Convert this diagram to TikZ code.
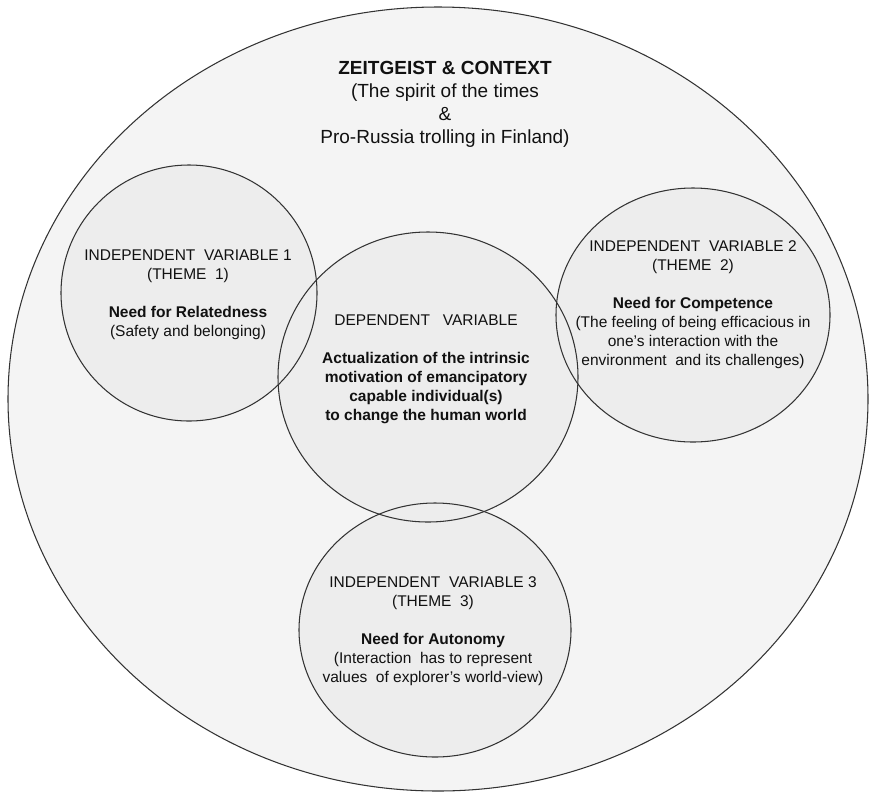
\documentclass[tikz,border=0pt]{standalone}
\usepackage{fontspec}
\setmainfont{Liberation Sans}
\definecolor{outerfill}{HTML}{F4F4F4}
\definecolor{innerfill}{HTML}{EDEDED}
\definecolor{rimcolor}{HTML}{333333}
\definecolor{inkcolor}{HTML}{111111}
\tikzset{
  rim/.style={draw=rimcolor, line width=1.05pt},
  heading/.style={align=center, text=inkcolor, inner sep=0pt,
    font=\fontsize{19pt}{23pt}\selectfont},
  bubbletext/.style={align=center, text=inkcolor, inner sep=0pt,
    font=\fontsize{15.5pt}{19pt}\selectfont}
}
\begin{document}
\begin{tikzpicture}[x=1pt, y=-1pt]
  \useasboundingbox (0,0) rectangle (870,793);
  \fill[white] (0,0) rectangle (870,793);

  % context ellipse and the four theme circles: fills first, rims on top
  \fill[outerfill] (438,399) ellipse [x radius=430pt, y radius=392pt];
  \foreach \cx/\cy/\rx/\ry in {189/293/128/128, 693/315/137/127,
                               435/630/136/127, 428/377/150/145}
    \fill[innerfill] (\cx,\cy) ellipse [x radius=\rx pt, y radius=\ry pt];
  \draw[rim] (438,399) ellipse [x radius=430pt, y radius=392pt];
  \foreach \cx/\cy/\rx/\ry in {189/293/128/128, 693/315/137/127,
                               435/630/136/127, 428/377/150/145}
    \draw[rim] (\cx,\cy) ellipse [x radius=\rx pt, y radius=\ry pt];

  % labels
  \node[heading] (context) at (445,104)
    {\textbf{ZEITGEIST \& CONTEXT}\\(The spirit of the times\\\&\\Pro-Russia trolling in Finland)};

  \node[bubbletext] (theme1) at (188,295)
    {INDEPENDENT~~VARIABLE 1\\(THEME~~1)\\[19pt]\textbf{Need for Relatedness}\\(Safety and belonging)};

  \node[bubbletext] (dependent) at (426,369)
    {DEPENDENT~~~VARIABLE\\[19pt]\textbf{Actualization of the intrinsic}\\\textbf{motivation of emancipatory}\\\textbf{capable individual(s)}\\\textbf{to change the human world}};

  \node[bubbletext] (theme2) at (693,305)
    {INDEPENDENT~~VARIABLE 2\\(THEME~~2)\\[19pt]\textbf{Need for Competence}\\(The feeling of being efficacious in\\one’s interaction with the\\environment~~and its challenges)};

  \node[bubbletext] (theme3) at (433,631)
    {INDEPENDENT~~VARIABLE 3\\(THEME~~3)\\[19pt]\textbf{Need for Autonomy}\\(Interaction~~has to represent\\values~~of explorer’s world-view)};
\end{tikzpicture}
\end{document}
